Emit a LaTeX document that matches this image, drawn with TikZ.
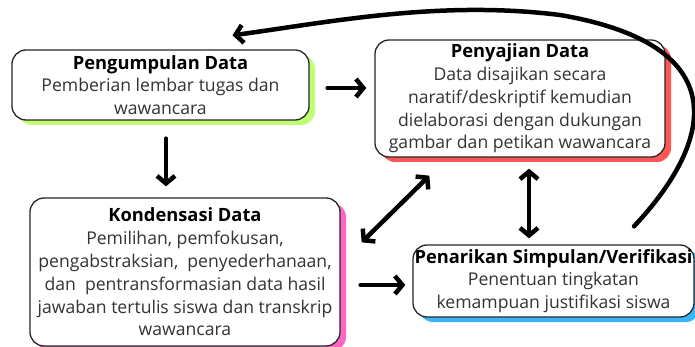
\documentclass[tikz,border=0pt]{standalone}
\usepackage{fontspec}
\setmainfont[Ligatures=NoCommon]{Open Sans}
\usetikzlibrary{arrows.meta,shadows}
\definecolor{hijau}{HTML}{C1FF72}
\definecolor{merah}{HTML}{FF5757}
\definecolor{merahmuda}{HTML}{FF66C4}
\definecolor{biru}{HTML}{38B6FF}
\definecolor{teks}{HTML}{333333}
\tikzset{
  kotak/.style={draw=black!85, line width=1.3pt, rounded corners=14pt, fill=white,
    align=center, inner xsep=0pt, inner ysep=0pt, text=teks,
    font=\fontsize{17.6}{22.8}\selectfont},
  bayang/.style={general shadow={fill=#1, shadow xshift=6pt, shadow yshift=-5pt}},
  panah/.style={line width=4.5pt, line cap=round, -{Straight Barb[length=7.5pt,width=18pt]}},
  panahdua/.style={line width=4.5pt, line cap=round,
    {Straight Barb[length=7.5pt,width=18pt]}-{Straight Barb[length=7.5pt,width=18pt]}}
}
\newcommand{\judul}[1]{{\color{black}\bfseries\fontsize{18.3}{22.8}\selectfont #1}}
\begin{document}
\begin{tikzpicture}[x=1pt,y=-1pt]
  \useasboundingbox (0,0) rectangle (695,347);
  \clip (0,0) rectangle (695,347);
  % kotak-kotak
  \node[kotak, bayang=hijau, minimum width=297pt, minimum height=70pt] (kumpul) at (160.5,85)
    {\judul{Pengumpulan Data}\\ Pemberian lembar tugas dan\\ wawancara};
  \node[kotak, bayang=merah, minimum width=290pt, minimum height=117pt] (saji) at (520,98.5)
    {\judul{Penyajian Data}\\ Data disajikan secara\\ naratif/deskriptif kemudian\\
     dielaborasi dengan dukungan\\ gambar dan petikan wawancara};
  \node[kotak, bayang=merahmuda, minimum width=310pt, minimum height=148pt] (kondensasi) at (185,272)
    {\judul{Kondensasi Data}\\ Pemilihan, pemfokusan,\\ pengabstraksian,\ \ penyederhanaan,\\
     dan\ \ pentransformasian data hasil\\ jawaban tertulis siswa dan transkrip\\ wawancara};
  \node[kotak, bayang=biru, minimum width=281pt, minimum height=72pt] (tarik) at (553.5,281)
    {\judul{Penarikan Simpulan/Verifikasi}\\ Penentuan tingkatan\\ kemampuan justifikasi siswa};
  % panah
  \draw[panah, shorten <=18pt, shorten >=8pt] ([yshift=-3pt]kumpul.east) -- ([yshift=10.5pt]saji.west);
  \draw[panah, shorten <=18pt, shorten >=11pt] ([xshift=5.5pt]kumpul.south) -- ([xshift=-19pt]kondensasi.north);
  \draw[panah, shorten <=20pt, shorten >=7pt] ([yshift=-13pt]kondensasi.east) -- ([yshift=-4pt]tarik.west);
  \draw[panahdua] ([xshift=21pt,yshift=-45pt]kondensasi.north east) -- ([xshift=55pt,yshift=-18pt]saji.south west);
  \draw[panahdua, shorten <=11pt, shorten >=6pt] ([xshift=9pt]saji.south) -- ([xshift=-24.5pt]tarik.north);
  \draw[panah] ([xshift=80.5pt,yshift=18pt]tarik.north) .. controls (715,140) and (735,45) .. (560,15)
    .. controls (440,0) and (330,22) .. ([xshift=72pt,yshift=14pt]kumpul.north);
\end{tikzpicture}
\end{document}
